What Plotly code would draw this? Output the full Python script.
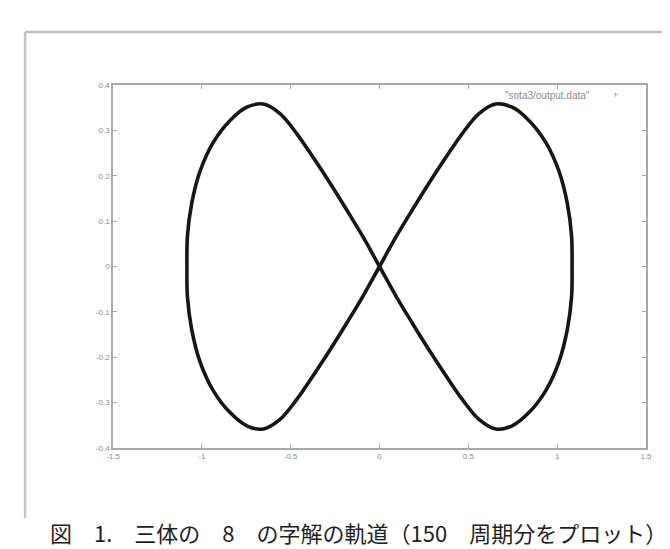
import plotly.graph_objects as go

# orbit: origin -> right lobe -> origin -> left lobe -> origin
orbit_x = [0.0, 0.091, 0.185, 0.279, 0.373, 0.466, 0.560, 0.654, 0.747, 0.841, 0.935, 1.010, 1.057, 1.081, 1.084,
           1.081, 1.057, 1.010, 0.935, 0.841, 0.747, 0.654, 0.560, 0.466, 0.373, 0.279, 0.185, 0.091, 0.0,
           -0.091, -0.185, -0.279, -0.373, -0.466, -0.560, -0.654, -0.747, -0.841, -0.935, -1.010, -1.057, -1.081, -1.084,
           -1.081, -1.057, -1.010, -0.935, -0.841, -0.747, -0.654, -0.560, -0.466, -0.373, -0.279, -0.185, -0.091, 0.0]
orbit_y = [0.0, 0.064, 0.125, 0.184, 0.240, 0.293, 0.337, 0.358, 0.351, 0.322, 0.274, 0.210, 0.139, 0.067, 0.0,
           -0.067, -0.139, -0.210, -0.274, -0.322, -0.351, -0.358, -0.337, -0.293, -0.240, -0.184, -0.125, -0.064, 0.0,
           0.064, 0.125, 0.184, 0.240, 0.293, 0.337, 0.358, 0.351, 0.322, 0.274, 0.210, 0.139, 0.067, 0.0,
           -0.067, -0.139, -0.210, -0.274, -0.322, -0.351, -0.358, -0.337, -0.293, -0.240, -0.184, -0.125, -0.064, 0.0]

x_ticks = [-1.5, -1.0, -0.5, 0.0, 0.5, 1.0, 1.5]
x_labels = ["-1.5", "-1", "-0.5", "0", "0.5", "1", "1.5"]
y_ticks = [-0.4, -0.3, -0.2, -0.1, 0.0, 0.1, 0.2, 0.3, 0.4]
y_labels = ["-0.4", "-0.3", "-0.2", "-0.1", "0", "0.1", "0.2", "0.3", "0.4"]

legend_text = '"sota3/output.data"'
caption = "図　1.　三体の　8　の字解の軌道（150　周期分をプロット）"

fig = go.Figure()
fig.add_trace(go.Scatter(x=orbit_x, y=orbit_y, mode="lines",
                         line=dict(color="#161616", width=3.6, shape="spline", smoothing=1.0),
                         showlegend=False, hoverinfo="skip"))

axis_common = dict(showgrid=False, zeroline=False, showline=True, linecolor="#a8a8a8", linewidth=1.5,
                   mirror="ticks", ticks="inside", ticklen=4, tickcolor="#a8a8a8", tickwidth=1,
                   tickfont=dict(family="Liberation Sans", size=8, color="#8a8a8a"))
fig.update_xaxes(range=[-1.5, 1.5], tickvals=x_ticks, ticktext=x_labels, **axis_common)
fig.update_yaxes(range=[-0.4, 0.4], tickvals=y_ticks, ticktext=y_labels, **axis_common)

# page body adds 8px margin, so the figure is a bit smaller than the window
fig.update_layout(width=662, height=541, margin=dict(l=105, r=24, t=77, b=101),
                  paper_bgcolor="white", plot_bgcolor="white")

# outer frame (only top and left edges show)
fig.add_shape(type="line", xref="paper", yref="paper", x0=-0.165, x1=1.2, y0=1.146, y1=1.146,
              line=dict(color="#bdbdbd", width=2.5))
fig.add_shape(type="line", xref="paper", yref="paper", x0=-0.165, x1=-0.165, y0=1.146, y1=-0.193,
              line=dict(color="#c4c4c4", width=2.5))

# gnuplot-style key
fig.add_annotation(xref="paper", yref="paper", x=0.899, y=0.972, xanchor="right", yanchor="middle",
                   text=legend_text, showarrow=False,
                   font=dict(family="Liberation Sans", size=10, color="#8a8a8a"))
fig.add_annotation(xref="paper", yref="paper", x=0.942, y=0.972, xanchor="center", yanchor="middle",
                   text="+", showarrow=False,
                   font=dict(family="Liberation Sans", size=9, color="#8a8a8a"))

fig.add_annotation(xref="paper", yref="paper", x=-0.122, y=-0.232, xanchor="left", yanchor="middle",
                   text=caption, showarrow=False,
                   font=dict(family="Noto Sans CJK JP", size=22, color="#1e1e1e"))

fig.write_html("out.html")
